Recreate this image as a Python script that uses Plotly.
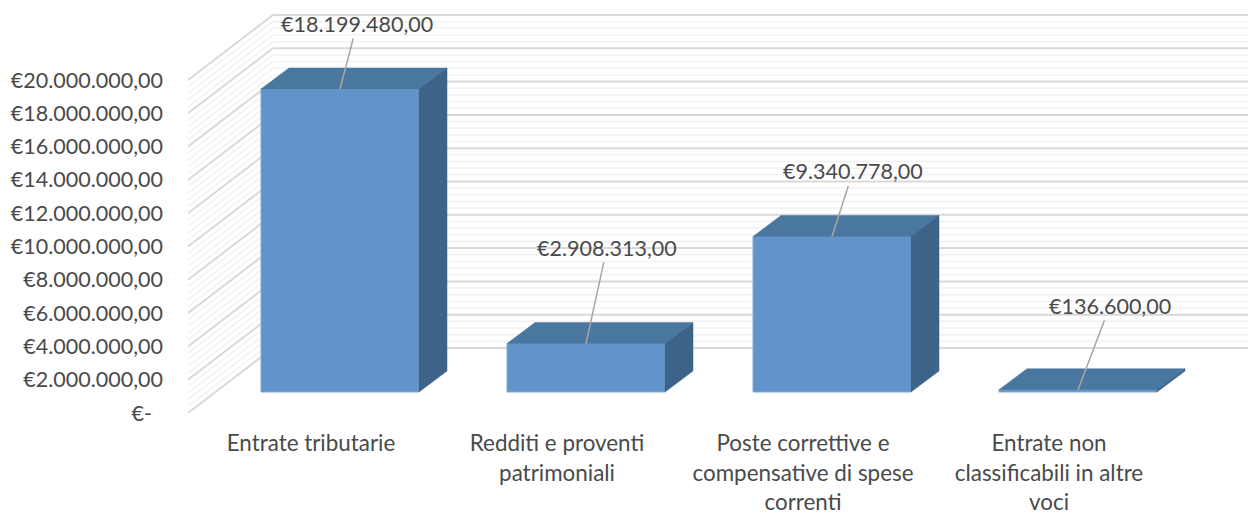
import plotly.graph_objects as go

# ---- data ----
categories = ["Entrate tributarie", "Redditi e proventi<br>patrimoniali",
              "Poste correttive e<br>compensative di spese<br>correnti",
              "Entrate non<br>classificabili in altre<br>voci"]
values = [18199480, 2908313, 9340778, 136600]
labels = ["€18.199.480,00", "€2.908.313,00", "€9.340.778,00", "€136.600,00"]
major_ticks = [0, 2000000, 4000000, 6000000, 8000000, 10000000,
               12000000, 14000000, 16000000, 18000000, 20000000]
tick_labels = ["€-\u00a0\u00a0", "€2.000.000,00", "€4.000.000,00", "€6.000.000,00", "€8.000.000,00",
               "€10.000.000,00", "€12.000.000,00", "€14.000.000,00", "€16.000.000,00",
               "€18.000.000,00", "€20.000.000,00"]
minor_step = 400000
label_offsets = [(17, -65), (21, -96), (21, -65), (32, -84)]

# ---- geometry of the pseudo-3D box ----
W, H = 1248, 512
L, B = 188, 99            # plot area margins
PX_PER_CAT = 246.0
PX_PER_VAL = 333.0 / 20000000
CHART_DX = 85 / PX_PER_CAT
CHART_DY = 65 / PX_PER_VAL
BAR_SHIFT = 29 / PX_PER_CAT
BAR_DX = 28 / PX_PER_CAT
BAR_DY = 21 / PX_PER_VAL
BAR_W = 158 / PX_PER_CAT
N = len(categories)
XMAX = (W - L) / PX_PER_CAT
YMAX = (H - B) / PX_PER_VAL

FRONT, TOP, SIDE = "#6094CA", "#4A77A0", "#3E6388"
MAJOR, MINOR = "#D9D9D9", "#F2F2F2"
TEXT = "#4A4A4A"


def grid_shapes(levels, color, width):
    return [dict(type="line", layer="below", xref="x", yref="y",
                 x0=x0, x1=x1, y0=y0, y1=y0 + dy, line=dict(color=color, width=width))
            for v in levels
            for x0, x1, y0, dy in [(0, CHART_DX, v, CHART_DY),
                                   (CHART_DX, N + CHART_DX, v + CHART_DY, 0)]]


minor_levels = [m + minor_step * k for m in major_ticks[:-1] for k in range(1, 5)]
fig = go.Figure()

for i, v in enumerate(values):
    cx = i + 0.5 + BAR_SHIFT
    x0, x1 = cx - BAR_W / 2, cx + BAR_W / 2
    y0, y1 = BAR_DY, BAR_DY + v
    fig.add_trace(go.Scatter(
        x=[x0, x1, x1 + BAR_DX, x0 + BAR_DX, x0],
        y=[y1, y1, y1 + BAR_DY, y1 + BAR_DY, y1],
        mode="lines", fill="toself", fillcolor=TOP, line=dict(color=TOP, width=0.5),
        hoverinfo="skip", showlegend=False))
    fig.add_trace(go.Scatter(
        x=[x1, x1 + BAR_DX, x1 + BAR_DX, x1, x1],
        y=[y0, y0 + BAR_DY, y1 + BAR_DY, y1, y0],
        mode="lines", fill="toself", fillcolor=SIDE, line=dict(color=SIDE, width=0.5),
        hoverinfo="skip", showlegend=False))

fig.add_trace(go.Bar(
    x=[i + 0.5 + BAR_SHIFT for i in range(N)], y=values, base=BAR_DY, width=BAR_W,
    marker=dict(color=FRONT, line=dict(color="#7FAAD8", width=1)),
    hoverinfo="skip", showlegend=False))

for i, v in enumerate(values):
    ax, ay = label_offsets[i]
    fig.add_annotation(
        x=i + 0.5 + BAR_SHIFT, y=BAR_DY + v, text=labels[i], showarrow=True,
        arrowhead=0, arrowwidth=1.5, arrowcolor="#A6A6A6", ax=ax, ay=ay,
        font=dict(family="Lato", size=21.5, color=TEXT), bgcolor="rgba(0,0,0,0)")

fig.update_layout(
    width=W, height=H, margin=dict(l=L, r=0, t=0, b=B, pad=0),
    paper_bgcolor="white", plot_bgcolor="white", showlegend=False, barmode="overlay",
    font=dict(family="Lato", size=21.5, color=TEXT),
    shapes=grid_shapes(minor_levels, MINOR, 1.5) + grid_shapes(major_ticks, MAJOR, 2),
    xaxis=dict(range=[0, XMAX], showgrid=False, zeroline=False, showline=False, ticks="",
               tickmode="array", tickvals=[i + 0.5 for i in range(N)], ticktext=categories,
               tickfont=dict(family="Lato", size=22.4, color=TEXT),
               tickangle=0, ticklabelstandoff=15, automargin=False),
    yaxis=dict(range=[0, YMAX], showgrid=False, zeroline=False, showline=False, ticks="",
               tickmode="array", tickvals=major_ticks, ticktext=tick_labels,
               ticklabelstandoff=24, automargin=False),
)
fig.write_html("out.html", post_script="document.body.style.margin='0';",
               config={"displayModeBar": False})
